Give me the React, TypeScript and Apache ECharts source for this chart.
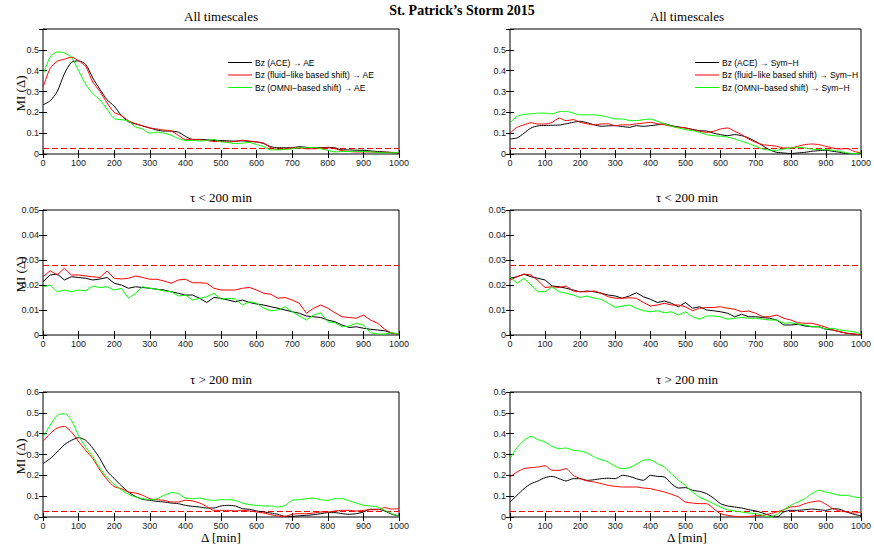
import React, { useEffect, useRef } from 'react';
import * as echarts from 'echarts';

// ---------- data ----------
const deltaMin = [0, 20, 40, 60, 80, 100, 120, 140, 160, 180, 200, 220, 240, 260, 280, 300, 320, 340, 360, 380, 400, 420, 440, 460, 480, 500, 520, 540, 560, 580, 600, 620, 640, 660, 680, 700, 720, 740, 760, 780, 800, 820, 840, 860, 880, 900, 920, 940, 960, 980, 1000];

// All timescales, AE
const allAE_ace = [0.236, 0.255, 0.30, 0.385, 0.44, 0.447, 0.43, 0.365, 0.31, 0.26, 0.23, 0.185, 0.155, 0.145, 0.135, 0.125, 0.115, 0.11, 0.11, 0.105, 0.085, 0.07, 0.07, 0.068, 0.065, 0.065, 0.063, 0.062, 0.063, 0.06, 0.058, 0.05, 0.035, 0.03, 0.03, 0.03, 0.035, 0.032, 0.03, 0.03, 0.032, 0.03, 0.02, 0.02, 0.018, 0.018, 0.015, 0.012, 0.01, 0.007, 0.005];
const allAE_fluid = [0.32, 0.41, 0.445, 0.455, 0.465, 0.447, 0.42, 0.345, 0.30, 0.245, 0.20, 0.185, 0.16, 0.145, 0.135, 0.125, 0.12, 0.115, 0.11, 0.09, 0.07, 0.07, 0.068, 0.065, 0.06, 0.06, 0.058, 0.06, 0.066, 0.062, 0.058, 0.052, 0.03, 0.022, 0.025, 0.03, 0.03, 0.025, 0.025, 0.028, 0.03, 0.025, 0.015, 0.012, 0.01, 0.01, 0.01, 0.008, 0.008, 0.008, 0.005];
const allAE_omni = [0.38, 0.465, 0.49, 0.485, 0.465, 0.40, 0.335, 0.29, 0.26, 0.215, 0.17, 0.165, 0.158, 0.13, 0.12, 0.10, 0.105, 0.10, 0.09, 0.075, 0.065, 0.065, 0.063, 0.065, 0.07, 0.058, 0.055, 0.05, 0.052, 0.055, 0.045, 0.035, 0.02, 0.02, 0.022, 0.025, 0.03, 0.03, 0.032, 0.025, 0.018, 0.01, 0.012, 0.012, 0.012, 0.012, 0.01, 0.008, 0.005, 0.006, 0.008];

// All timescales, Sym-H
const allSym_ace = [0.072, 0.077, 0.10, 0.125, 0.135, 0.137, 0.138, 0.139, 0.145, 0.152, 0.157, 0.15, 0.14, 0.133, 0.135, 0.136, 0.132, 0.128, 0.136, 0.133, 0.136, 0.14, 0.145, 0.136, 0.13, 0.125, 0.118, 0.112, 0.11, 0.10, 0.093, 0.088, 0.093, 0.088, 0.077, 0.06, 0.04, 0.02, 0.008, 0.005, 0.002, 0.005, 0.008, 0.013, 0.016, 0.018, 0.013, 0.008, 0.002, 0.002, 0.005];
const allSym_fluid = [0.10, 0.128, 0.14, 0.15, 0.144, 0.144, 0.152, 0.172, 0.16, 0.165, 0.152, 0.145, 0.14, 0.144, 0.145, 0.136, 0.14, 0.14, 0.145, 0.148, 0.152, 0.145, 0.14, 0.133, 0.128, 0.125, 0.117, 0.109, 0.104, 0.109, 0.12, 0.125, 0.109, 0.093, 0.072, 0.056, 0.045, 0.041, 0.037, 0.029, 0.029, 0.037, 0.045, 0.048, 0.045, 0.037, 0.029, 0.024, 0.026, 0.013, 0.005];
const allSym_omni = [0.15, 0.18, 0.19, 0.193, 0.196, 0.196, 0.193, 0.203, 0.205, 0.196, 0.188, 0.188, 0.188, 0.184, 0.177, 0.168, 0.168, 0.161, 0.16, 0.165, 0.168, 0.157, 0.145, 0.133, 0.125, 0.117, 0.112, 0.104, 0.093, 0.088, 0.085, 0.081, 0.072, 0.061, 0.05, 0.037, 0.024, 0.018, 0.018, 0.024, 0.029, 0.032, 0.029, 0.024, 0.021, 0.021, 0.018, 0.013, 0.005, 0.002, 0.005];

// tau < 200 min, AE
const shortAE_ace = [0.0213, 0.024, 0.0244, 0.022, 0.0233, 0.023, 0.0227, 0.022, 0.0224, 0.023, 0.0207, 0.02, 0.0187, 0.0193, 0.019, 0.0187, 0.0183, 0.018, 0.0173, 0.0167, 0.016, 0.016, 0.0147, 0.013, 0.015, 0.0147, 0.014, 0.0133, 0.014, 0.013, 0.0124, 0.012, 0.0113, 0.0107, 0.01, 0.0093, 0.0087, 0.0076, 0.0073, 0.007, 0.006, 0.0053, 0.004, 0.003, 0.0033, 0.0027, 0.0023, 0.002, 0.0017, 0.0007, 0.0004];
const shortAE_fluid = [0.0233, 0.0257, 0.024, 0.0267, 0.024, 0.024, 0.0236, 0.0233, 0.023, 0.0256, 0.0227, 0.0224, 0.0227, 0.0236, 0.023, 0.0223, 0.0223, 0.0216, 0.0207, 0.022, 0.0223, 0.0209, 0.0209, 0.0207, 0.0187, 0.018, 0.018, 0.018, 0.0187, 0.019, 0.018, 0.0167, 0.0163, 0.0147, 0.015, 0.014, 0.0127, 0.0087, 0.0107, 0.012, 0.0107, 0.0089, 0.0073, 0.007, 0.0067, 0.008, 0.006, 0.0047, 0.0023, 0.0007, 0.0004];
const shortAE_omni = [0.0193, 0.02, 0.0173, 0.018, 0.0173, 0.018, 0.0177, 0.0196, 0.019, 0.0193, 0.018, 0.0187, 0.0147, 0.0167, 0.0193, 0.0187, 0.0183, 0.0176, 0.0173, 0.0156, 0.016, 0.014, 0.0147, 0.0153, 0.0167, 0.0143, 0.0147, 0.0144, 0.012, 0.0133, 0.0127, 0.0107, 0.0097, 0.01, 0.0113, 0.0093, 0.0076, 0.006, 0.008, 0.0089, 0.0053, 0.0049, 0.0033, 0.0036, 0.0047, 0.004, 0.0009, 0.0004, 0.0004, 0.0009, 0.0004];

// tau < 200 min, Sym-H
const shortSym_ace = [0.0227, 0.0233, 0.0243, 0.0233, 0.0227, 0.022, 0.0196, 0.0193, 0.0187, 0.018, 0.0173, 0.0176, 0.0173, 0.0167, 0.016, 0.0156, 0.0147, 0.0156, 0.0169, 0.0153, 0.0143, 0.013, 0.0136, 0.0127, 0.0113, 0.013, 0.0107, 0.0113, 0.01, 0.0097, 0.0093, 0.0087, 0.0073, 0.0083, 0.0073, 0.0073, 0.007, 0.0067, 0.006, 0.004, 0.004, 0.0043, 0.0036, 0.0033, 0.0033, 0.0023, 0.002, 0.0013, 0.0007, 0.0004, 0];
const shortSym_fluid = [0.022, 0.0233, 0.0244, 0.024, 0.0217, 0.019, 0.0193, 0.019, 0.0196, 0.0176, 0.0173, 0.0173, 0.0176, 0.0167, 0.0153, 0.0147, 0.0147, 0.0149, 0.0147, 0.013, 0.0116, 0.012, 0.0127, 0.012, 0.012, 0.0113, 0.0097, 0.0107, 0.011, 0.011, 0.0113, 0.0107, 0.0103, 0.0093, 0.0096, 0.0087, 0.0073, 0.0073, 0.008, 0.0067, 0.006, 0.0049, 0.0047, 0.0047, 0.004, 0.0031, 0.002, 0.0013, 0.0007, 0.0004, 0];
const shortSym_omni = [0.0233, 0.0207, 0.0227, 0.02, 0.0173, 0.0173, 0.0193, 0.0173, 0.0167, 0.016, 0.015, 0.0156, 0.0147, 0.0143, 0.0127, 0.011, 0.0116, 0.012, 0.0107, 0.0097, 0.0093, 0.0097, 0.0089, 0.0093, 0.008, 0.0093, 0.0073, 0.0063, 0.0076, 0.0076, 0.0073, 0.0063, 0.0067, 0.007, 0.0067, 0.0067, 0.0063, 0.006, 0.006, 0.0047, 0.0049, 0.0044, 0.004, 0.0033, 0.0033, 0.0023, 0.0027, 0.002, 0.0017, 0.0013, 0.0004];

// tau > 200 min, AE
const longAE_ace = [0.256, 0.28, 0.312, 0.347, 0.368, 0.381, 0.368, 0.33, 0.28, 0.22, 0.185, 0.15, 0.12, 0.098, 0.085, 0.08, 0.075, 0.072, 0.067, 0.064, 0.056, 0.051, 0.048, 0.043, 0.043, 0.053, 0.056, 0.053, 0.04, 0.037, 0.029, 0.024, 0.019, 0.013, 0.003, 0.003, 0.006, 0.008, 0.011, 0.016, 0.021, 0.021, 0.016, 0.013, 0.016, 0.024, 0.037, 0.037, 0.029, 0.013, 0.005];
const longAE_fluid = [0.363, 0.40, 0.427, 0.435, 0.408, 0.362, 0.32, 0.28, 0.225, 0.18, 0.146, 0.136, 0.12, 0.115, 0.104, 0.088, 0.083, 0.08, 0.072, 0.072, 0.08, 0.077, 0.067, 0.051, 0.032, 0.032, 0.032, 0.029, 0.032, 0.029, 0.024, 0.019, 0.011, 0.005, 0.003, 0.013, 0.016, 0.016, 0.019, 0.024, 0.024, 0.029, 0.032, 0.032, 0.029, 0.032, 0.035, 0.035, 0.045, 0.038, 0.04];
const longAE_omni = [0.384, 0.44, 0.488, 0.496, 0.464, 0.39, 0.335, 0.29, 0.235, 0.19, 0.157, 0.13, 0.109, 0.096, 0.088, 0.083, 0.088, 0.104, 0.117, 0.112, 0.091, 0.088, 0.091, 0.083, 0.08, 0.083, 0.083, 0.08, 0.067, 0.059, 0.056, 0.053, 0.053, 0.048, 0.056, 0.08, 0.083, 0.088, 0.091, 0.083, 0.08, 0.088, 0.088, 0.077, 0.067, 0.056, 0.053, 0.048, 0.032, 0.016, 0.003];

// tau > 200 min, Sym-H
const longSym_ace = [0.072, 0.104, 0.136, 0.16, 0.173, 0.189, 0.195, 0.184, 0.173, 0.184, 0.184, 0.176, 0.179, 0.184, 0.186, 0.184, 0.20, 0.195, 0.184, 0.176, 0.20, 0.195, 0.192, 0.16, 0.139, 0.141, 0.128, 0.123, 0.112, 0.091, 0.064, 0.053, 0.048, 0.043, 0.035, 0.029, 0.019, 0.008, 0, 0.024, 0.032, 0.032, 0.035, 0.038, 0.035, 0.032, 0.04, 0.037, 0.024, 0.013, 0.006];
const longSym_fluid = [0.192, 0.216, 0.232, 0.237, 0.24, 0.246, 0.224, 0.224, 0.232, 0.20, 0.184, 0.173, 0.168, 0.16, 0.152, 0.147, 0.144, 0.144, 0.144, 0.139, 0.136, 0.128, 0.12, 0.109, 0.096, 0.072, 0.067, 0.064, 0.064, 0.04, 0.016, 0.008, 0.003, 0, 0.003, 0.006, 0.008, 0.016, 0.024, 0.035, 0.048, 0.051, 0.064, 0.072, 0.077, 0.061, 0.04, 0.029, 0.024, 0.019, 0.024];
const longSym_omni = [0.28, 0.333, 0.368, 0.387, 0.371, 0.36, 0.339, 0.328, 0.331, 0.32, 0.317, 0.307, 0.288, 0.275, 0.264, 0.243, 0.232, 0.237, 0.253, 0.272, 0.275, 0.256, 0.24, 0.208, 0.176, 0.152, 0.12, 0.096, 0.08, 0.064, 0.048, 0.035, 0.029, 0.024, 0.019, 0.016, 0.008, 0, 0.013, 0.035, 0.056, 0.072, 0.088, 0.112, 0.128, 0.12, 0.112, 0.104, 0.104, 0.096, 0.093];

const significanceLevel = 0.028;

const mainTitle = 'St. Patrick’s Storm 2015';
const panelTitles = ['All timescales', 'τ < 200 min', 'τ > 200 min'];
const yAxisTitle = 'MI (Δ)';
const xAxisTitle = 'Δ [min]';
const aeNames = ['Bz (ACE) → AE', 'Bz (fluid−like based shift) → AE', 'Bz (OMNI−based shift) → AE'];
const symNames = ['Bz (ACE) → Sym−H', 'Bz (fluid−like based shift) → Sym−H', 'Bz (OMNI−based shift) → Sym−H'];

const yMaxByRow = [0.6, 0.05, 0.6];
const yStepByRow = [0.1, 0.01, 0.1];
const yLabelMaxByRow = [0.5, 0.05, 0.6];
const xMax = 1000;
const xStep = 100;

const panels = [
  { row: 0, col: 0, names: aeNames, lines: [allAE_ace, allAE_fluid, allAE_omni] },
  { row: 0, col: 1, names: symNames, lines: [allSym_ace, allSym_fluid, allSym_omni] },
  { row: 1, col: 0, names: aeNames, lines: [shortAE_ace, shortAE_fluid, shortAE_omni] },
  { row: 1, col: 1, names: symNames, lines: [shortSym_ace, shortSym_fluid, shortSym_omni] },
  { row: 2, col: 0, names: aeNames, lines: [longAE_ace, longAE_fluid, longAE_omni] },
  { row: 2, col: 1, names: symNames, lines: [longSym_ace, longSym_fluid, longSym_omni] },
];

// ---------- layout / style ----------
const lineColors = ['#000000', '#ff0000', '#00ff00'];
const gridLeft = [43, 510];
const gridWidth = [356, 354];
const gridTop = [29, 210, 392];
const gridHeight = 125;
const smoothByRow = [0.25, 0, 0.25];
const SANS = 'Liberation Sans';
const SERIF = 'Liberation Serif';

function fmt(v: number) {
  return String(parseFloat(v.toFixed(4)));
}

export default function App() {
  const ref = useRef<HTMLDivElement>(null);

  useEffect(() => {
    if (!ref.current) return;
    const chart = echarts.init(ref.current, undefined, { renderer: 'svg' });

    const grid: any[] = [];
    const xAxis: any[] = [];
    const yAxis: any[] = [];
    const series: any[] = [];
    const graphic: any[] = [];

    panels.forEach((p, i) => {
      grid.push({
        left: gridLeft[p.col],
        top: gridTop[p.row],
        width: gridWidth[p.col],
        height: gridHeight,
        show: true,
        borderColor: '#000',
        borderWidth: 1,
        backgroundColor: 'transparent',
      });
      const tick = { show: true, inside: true, length: 4, lineStyle: { color: '#000', width: 1 } };
      xAxis.push({
        type: 'value', gridIndex: i, min: 0, max: xMax, interval: xStep, position: 'bottom',
        axisLine: { show: false }, axisTick: tick, splitLine: { show: false },
        axisLabel: { fontSize: 9, fontFamily: SANS, color: '#222', margin: 4, formatter: (v: number) => fmt(v) },
      });
      xAxis.push({
        type: 'value', gridIndex: i, min: 0, max: xMax, interval: xStep, position: 'top',
        axisLine: { show: false }, axisTick: tick, splitLine: { show: false }, axisLabel: { show: false },
      });
      const lblMax = yLabelMaxByRow[p.row];
      yAxis.push({
        type: 'value', gridIndex: i, min: 0, max: yMaxByRow[p.row], interval: yStepByRow[p.row], position: 'left',
        axisLine: { show: false }, axisTick: tick, splitLine: { show: false },
        axisLabel: {
          fontSize: 9, fontFamily: SANS, color: '#222', margin: 4,
          formatter: (v: number) => (v > lblMax + 1e-9 ? '' : fmt(v)),
        },
      });
      yAxis.push({
        type: 'value', gridIndex: i, min: 0, max: yMaxByRow[p.row], interval: yStepByRow[p.row], position: 'right',
        axisLine: { show: false }, axisTick: tick, splitLine: { show: false }, axisLabel: { show: false },
      });

      p.lines.forEach((vals, k) => {
        const s: any = {
          type: 'line',
          name: p.names[k],
          xAxisIndex: 2 * i,
          yAxisIndex: 2 * i,
          data: deltaMin.map((x, j) => [x, vals[j]]),
          symbol: 'none',
          showSymbol: false,
          smooth: smoothByRow[p.row] || false,
          lineStyle: { width: 1, color: lineColors[k] },
          itemStyle: { color: lineColors[k] },
          z: 2 + k,
        };
        if (k === 0) {
          s.markLine = {
            silent: true,
            precision: 6,
            symbol: ['none', 'none'],
            label: { show: false },
            lineStyle: { color: '#ff0000', type: [6, 3], width: 1 },
            data: [{ yAxis: significanceLevel }],
            z: 1,
          };
        }
        series.push(s);
      });

      const cx = gridLeft[p.col] + gridWidth[p.col] / 2;
      graphic.push({
        type: 'text',
        x: cx,
        y: gridTop[p.row] - 13,
        style: {
          text: panelTitles[p.row], fontSize: 13, fontFamily: SERIF, fill: '#000',
          align: 'center', verticalAlign: 'middle', textAlign: 'center', textVerticalAlign: 'middle',
        },
      });
      if (p.col === 0) {
        graphic.push({
          type: 'text',
          x: 20,
          y: gridTop[p.row] + gridHeight / 2 + 2,
          rotation: Math.PI / 2,
          style: {
            text: yAxisTitle, fontSize: 13, fontFamily: SERIF, fill: '#000',
            align: 'center', verticalAlign: 'middle', textAlign: 'center', textVerticalAlign: 'middle',
          },
        });
      }
      if (p.row === 2) {
        graphic.push({
          type: 'text',
          x: cx,
          y: gridTop[p.row] + gridHeight + 20,
          style: {
            text: xAxisTitle, fontSize: 13, fontFamily: SERIF, fill: '#000',
            align: 'center', verticalAlign: 'middle', textAlign: 'center', textVerticalAlign: 'middle',
          },
        });
      }
    });

    graphic.push({
      type: 'text',
      x: 462,
      y: 10,
      style: {
        text: mainTitle, fontSize: 14, fontWeight: 'bold', fontFamily: SERIF, fill: '#000',
        align: 'center', verticalAlign: 'middle', textAlign: 'center', textVerticalAlign: 'middle',
      },
    });

    const legendCommon = {
      orient: 'vertical',
      icon: 'rect',
      itemWidth: 24,
      itemHeight: 1,
      itemGap: 2.5,
      selectedMode: false,
      textStyle: { fontSize: 8.5, lineHeight: 10, fontFamily: SANS, color: '#000', padding: [0, 0, 0, -2] },
    };

    chart.setOption({
      animation: false,
      backgroundColor: '#fff',
      grid,
      xAxis,
      yAxis,
      series,
      graphic,
      legend: [
        { ...legendCommon, data: aeNames, left: 223, top: 52.5 },
        { ...legendCommon, data: symNames, left: 690, top: 52.5 },
      ],
    });

    return () => chart.dispose();
  }, []);

  return (
    <div
      ref={ref}
      style={{ position: 'absolute', left: 0, top: 0, width: 874, height: 547, background: '#fff' }}
    />
  );
}
